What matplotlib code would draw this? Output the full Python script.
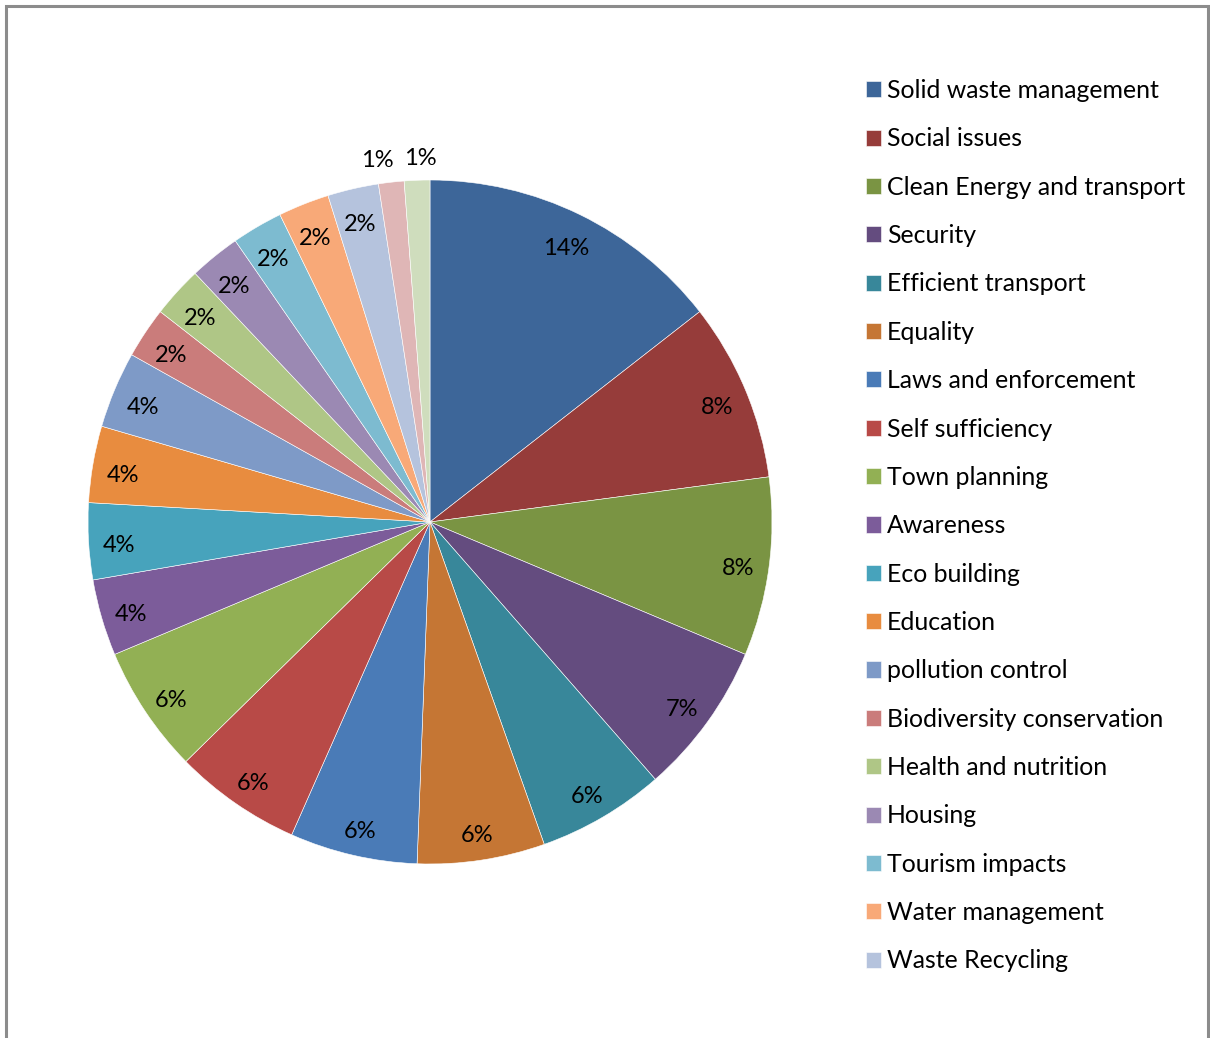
import matplotlib
matplotlib.use('Agg')
import matplotlib.pyplot as plt
from matplotlib.patches import Rectangle

plt.rcParams['font.family'] = ['Lato', 'DejaVu Sans']

# counts per theme (83 in total)
names = ['Solid waste management', 'Social issues', 'Clean Energy and transport',
         'Security', 'Efficient transport', 'Equality', 'Laws and enforcement',
         'Self sufficiency', 'Town planning', 'Awareness', 'Eco building',
         'Education', 'pollution control', 'Biodiversity conservation',
         'Health and nutrition', 'Housing', 'Tourism impacts',
         'Water management', 'Waste Recycling', 'Other 1', 'Other 2']
counts = [12, 7, 7, 6, 5, 5, 5, 5, 5, 3, 3, 3, 3, 2, 2, 2, 2, 2, 2, 1, 1]
n_legend = 19

colors = ['#3D6699', '#963C3A', '#7A9443', '#644C7F', '#38879A', '#C57634',
          '#4A7BB7', '#B84A47', '#92B054', '#7C5C9A', '#47A3BC', '#E88C3F',
          '#7E9AC7', '#CA7C7B', '#AFC686', '#9B89B3', '#7DBBD0', '#F8A978',
          '#B5C3DD', '#DFB6B6', '#CFDDBD']

W, H = 1210, 1038
fig = plt.figure(figsize=(W / 100, H / 100), dpi=100)
fig.patch.set_facecolor('white')

# chart border (bottom edge runs off the image)
fig.patches.append(Rectangle((6 / W, -0.05), 1202 / W, 1 - 6 / H + 0.05,
                             transform=fig.transFigure, fill=False,
                             edgecolor='#8C8C8C', linewidth=2.2))

cx, cy, r = 430, 522, 342
ax = fig.add_axes([(cx - r) / W, (H - cy - r) / H, 2 * r / W, 2 * r / H])

wedges, texts, autotexts = ax.pie(counts, colors=colors, startangle=90,
                                  counterclock=False, autopct='%1.0f%%',
                                  pctdistance=0.91,
                                  wedgeprops=dict(edgecolor='white', linewidth=0.4),
                                  textprops=dict(fontsize=17, color='black'))
# labels sit a little lower than the exact radial spot
for t in autotexts:
    x, y = t.get_position()
    t.set_position((x, y - 0.017))
# the two smallest slices carry their labels outside, spread apart a bit
for t, dx in zip(autotexts[-2:], [-0.03, 0.013]):
    x, y = t.get_position()
    t.set_position((x * 1.19 + dx, y * 1.19))
ax.set_xlim(-1, 1)
ax.set_ylim(-1, 1)
ax.set_aspect('equal')
ax.axis('off')

fig.legend(wedges[:n_legend], names[:n_legend], loc='upper left',
           bbox_to_anchor=(866 / W, 1 - 79 / H), frameon=False,
           fontsize=17.9, handlelength=0.6, handleheight=0.62,
           handletextpad=0.25, labelspacing=1.02, borderpad=0, borderaxespad=0)

fig.savefig('out.png', dpi=100)
